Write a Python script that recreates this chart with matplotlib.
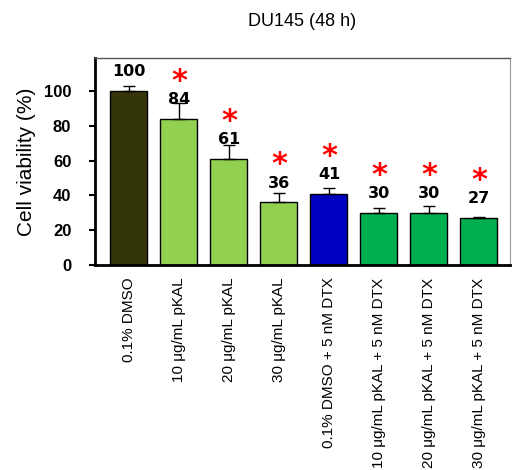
import numpy as np
import matplotlib
matplotlib.use("Agg")
import matplotlib.pyplot as plt

# data
groups = ["0.1% DMSO", "10 \u03bcg/mL pKAL", "20 \u03bcg/mL pKAL", "30 \u03bcg/mL pKAL",
          "0.1% DMSO + 5 nM DTX", "10 \u03bcg/mL pKAL + 5 nM DTX",
          "20 \u03bcg/mL pKAL + 5 nM DTX", "30 \u03bcg/mL pKAL + 5 nM DTX"]
viability = [100, 84, 61, 36, 41, 30, 30, 27]
errors = [3, 9, 8, 5.5, 3.5, 2.5, 4, 0.5]
significant = [False, True, True, True, True, True, True, True]
bar_colors = ["#35350a", "#92d050", "#92d050", "#92d050",
              "#0000c0", "#00b050", "#00b050", "#00b050"]

fig = plt.figure(figsize=(5.12, 4.7), dpi=100)
ax = fig.add_axes([0.1855, 0.436, 0.8105, 0.441])

x = np.arange(len(groups))
ax.bar(x, viability, width=0.74, color=bar_colors, edgecolor="black", linewidth=1.0, zorder=2)
ax.errorbar(x, viability, yerr=[np.zeros(len(errors)), errors], fmt="none",
            ecolor="black", elinewidth=1.0, capsize=4, capthick=1.0, zorder=3)

for xi, v, s in zip(x, viability, significant):
    ax.text(xi, v + 11, str(v), ha="center", va="center",
            fontsize=11.5, fontweight="bold", zorder=4)
    if s:
        ax.text(xi, v + 21.5, "*", ha="center", va="center",
                fontsize=22, color="red", fontweight="bold", zorder=4)

ax.set_xlim(-0.68, 7.62)
ax.set_ylim(0, 119)
ax.set_yticks([0, 20, 40, 60, 80, 100])
ax.set_xticks(x)
ax.set_xticklabels(groups, rotation=90, ha="center", va="top",
                   fontsize=11, family="Liberation Sans")
for lbl in ax.get_yticklabels():
    lbl.set_fontweight("bold")
    lbl.set_fontsize(12)
    lbl.set_family("Liberation Sans")
ax.tick_params(axis="x", length=0, pad=9)
ax.tick_params(axis="y", direction="out", length=4, width=1.5, pad=13)

ax.spines["left"].set_linewidth(2)
ax.spines["bottom"].set_linewidth(2)
ax.spines["top"].set_color("#555555")
ax.spines["right"].set_color("#999999")
ax.spines["top"].set_linewidth(1)
ax.spines["right"].set_linewidth(0.8)

ax.set_ylabel("Cell viability (%)", fontsize=15, family="Liberation Sans", labelpad=6)
fig.text(0.59, 0.955, "DU145 (48 h)", ha="center", va="center",
         fontsize=13, family="Liberation Sans")

fig.savefig("out.png", dpi=100)
